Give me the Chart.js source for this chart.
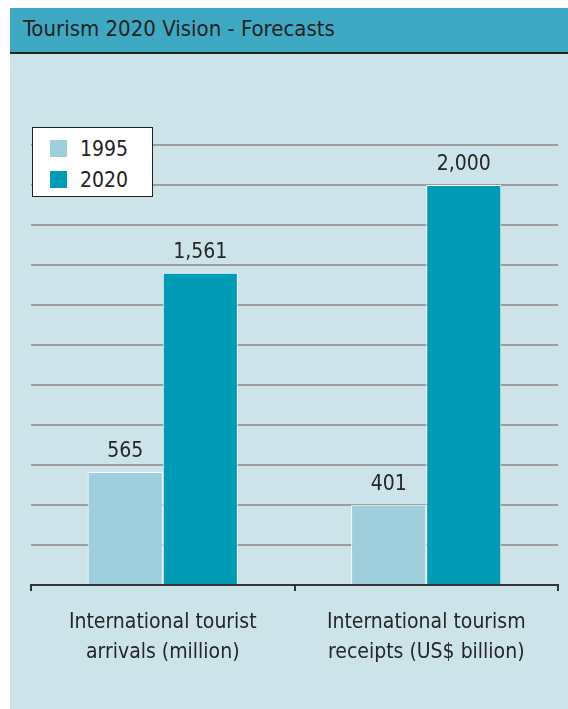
<!DOCTYPE html>
<html lang="en">
<head>
<meta charset="UTF-8">
<meta name="viewport" content="width=device-width, initial-scale=1.0">
<title>Tourism 2020 Vision - Forecasts</title>
<script src="https://cdn.jsdelivr.net/npm/chart.js"></script>
<style>
    body {
        margin: 0;
        width: 568px;
        height: 709px;
        position: relative;
        overflow: hidden;
        background: #fff;
        font-family: "DejaVu Sans Condensed", "Liberation Sans Narrow", sans-serif;
        color: #232323;
    }
    .title {
        position: absolute;
        left: 10px;
        top: 8px;
        width: 545px;
        height: 44px;
        padding-left: 13px;
        background: #3fa8c2;
        border-bottom: 2px solid #222;
        font-size: 22px;
        line-height: 42px;
    }
    .panel {
        position: absolute;
        left: 10px;
        top: 54px;
        width: 558px;
        height: 655px;
        background: #cce3e9;
    }
    .legend {
        position: absolute;
        left: 22px;
        top: 73px;
        width: 119px;
        height: 68px;
        background: #fff;
        border: 1px solid #222;
    }
    .legend div {
        position: absolute;
        left: 47px;
        font-size: 21px;
        line-height: 24px;
    }
    .legend span {
        position: absolute;
        left: -30px;
        top: 3px;
        width: 17px;
        height: 17px;
    }
</style>
</head>
<body>
    <div class="title">Tourism 2020 Vision - Forecasts</div>
    <div class="panel">
        <canvas id="chart" width="558" height="654"></canvas>
        <div class="legend" id="legend"></div>
    </div>

<script>
    const FONT = '"DejaVu Sans Condensed", "Liberation Sans Narrow", sans-serif';

    const categories = [
        ["International tourist", "arrivals (million)"],
        ["International tourism", "receipts (US$ billion)"]
    ];
    const seriesNames = ["1995", "2020"];
    const values1995 = [565, 401];
    const values2020 = [1561, 2000];
    const yMax = 2200;
    const yStep = 200;

    const colors = ["#9fcedc", "#009bb4"];

    // legend box in the top-left corner of the plot
    const legend = document.getElementById("legend");
    seriesNames.forEach((name, i) => {
        const item = document.createElement("div");
        item.style.top = (9 + i * 31) + "px";
        item.innerHTML = '<span style="background:' + colors[i] + '"></span>' + name;
        legend.appendChild(item);
    });

    // numbers above each bar
    const valueLabels = {
        id: "valueLabels",
        afterDatasetsDraw(chart) {
            const ctx = chart.ctx;
            ctx.save();
            ctx.font = "21px " + FONT;
            ctx.fillStyle = "#262626";
            ctx.textAlign = "center";
            ctx.textBaseline = "alphabetic";
            chart.data.datasets.forEach((ds, i) => {
                chart.getDatasetMeta(i).data.forEach((bar, j) => {
                    ctx.fillText(ds.data[j].toLocaleString("en-US"), bar.x, bar.y - 15);
                });
            });
            ctx.restore();
        }
    };

    new Chart(document.getElementById("chart"), {
        type: "bar",
        data: {
            labels: categories,
            datasets: [
                { label: seriesNames[0], data: values1995, backgroundColor: colors[0] },
                { label: seriesNames[1], data: values2020, backgroundColor: colors[1] }
            ]
        },
        options: {
            responsive: false,
            animation: false,
            events: [],
            datasets: {
                bar: {
                    categoryPercentage: 0.57,
                    barPercentage: 1,
                    borderColor: "#ffffff",
                    borderWidth: 1
                }
            },
            layout: { padding: { left: 21, right: 10, top: 91, bottom: 0 } },
            plugins: {
                legend: { display: false },
                tooltip: { enabled: false }
            },
            scales: {
                x: {
                    offset: true,
                    afterFit(scale) { scale.height = 123; },
                    grid: {
                        display: true,
                        drawOnChartArea: false,
                        drawTicks: true,
                        tickLength: 6,
                        color: "#333",
                        lineWidth: 2
                    },
                    border: { display: true, color: "#333", width: 2 },
                    ticks: {
                        padding: 16,
                        color: "#262626",
                        font: { family: FONT, size: 21, lineHeight: 1.45 }
                    }
                },
                y: {
                    min: 0,
                    max: yMax,
                    afterFit(scale) { scale.width = 0; },
                    ticks: { display: false, stepSize: yStep },
                    border: { display: false },
                    grid: {
                        drawTicks: false,
                        lineWidth: 2,
                        color: ctx => ctx.tick && ctx.tick.value === 0 ? "rgba(0,0,0,0)" : "#9c9c9c"
                    }
                }
            }
        },
        plugins: [valueLabels]
    });
</script>
</body>
</html>
